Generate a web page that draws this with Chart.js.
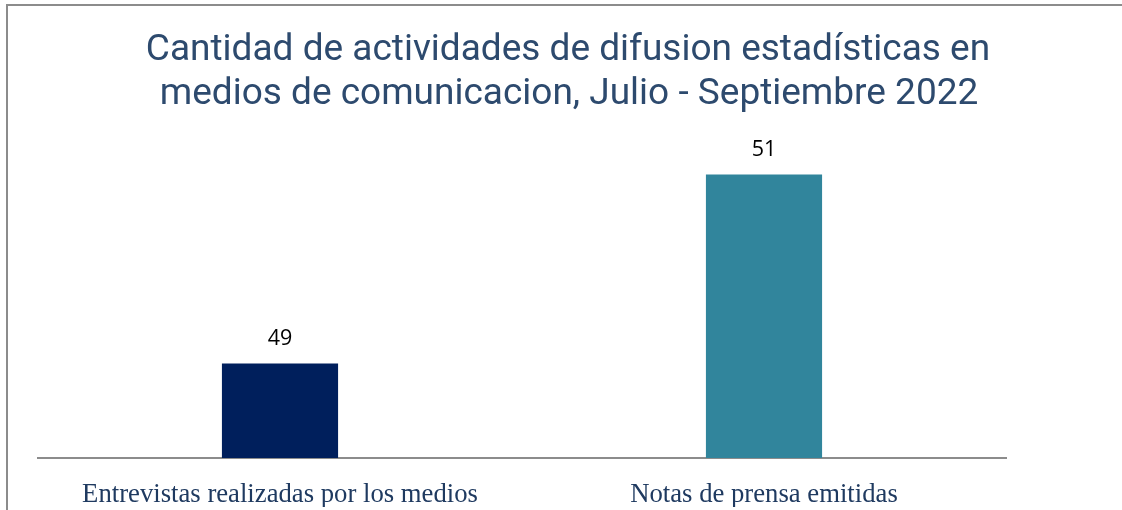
<!DOCTYPE html>
<html>
<head>
<meta charset="utf-8">
<script src="https://cdn.jsdelivr.net/npm/chart.js@4.4.0/dist/chart.umd.min.js"></script>
<style>
html,body{margin:0;padding:0;background:#fff;}
#wrap{width:1122px;height:510px;position:relative;}
</style>
</head>
<body>
<div id="wrap"><canvas id="c" width="1122" height="510"></canvas></div>
<script>
const categories = ["Entrevistas realizadas por los medios", "Notas de prensa emitidas"];
const values = [49, 51];
const barColors = ["#001f5c", "#31859c"];
const titleLines = ["Cantidad de actividades de difusion estadísticas en", "medios de comunicacion, Julio - Septiembre 2022"];
const yMin = 48;
const yMax = 52;

const framePlugin = {
  id: 'frame',
  beforeDraw(chart) {
    const ctx = chart.ctx;
    ctx.save();
    ctx.fillStyle = '#ffffff';
    ctx.fillRect(0, 0, chart.width, chart.height);
    ctx.strokeStyle = '#8c8c8c';
    ctx.lineWidth = 2;
    ctx.beginPath();
    ctx.moveTo(7, chart.height);
    ctx.lineTo(7, 5);
    ctx.lineTo(chart.width, 5);
    ctx.stroke();
    ctx.restore();
  },
  afterDraw(chart) {
    const ctx = chart.ctx;
    ctx.save();
    ctx.font = '37px Roboto';
    ctx.fillStyle = '#2d4a6e';
    ctx.textAlign = 'center';
    ctx.textBaseline = 'alphabetic';
    ctx.fillText(titleLines[0], 568, 60);
    ctx.fillText(titleLines[1], 569, 104);
    // data labels
    const meta = chart.getDatasetMeta(0);
    ctx.font = '21.5px "Open Sans"';
    ctx.fillStyle = '#000000';
    meta.data.forEach((bar, i) => {
      ctx.fillText(String(values[i]), bar.x, bar.y - 18.5);
    });
    ctx.restore();
  }
};

new Chart(document.getElementById('c'), {
  type: 'bar',
  data: {
    labels: categories,
    datasets: [{
      data: values,
      backgroundColor: barColors,
      borderWidth: 0,
      barPercentage: 0.24,
      categoryPercentage: 1.0
    }]
  },
  options: {
    responsive: false,
    animation: false,
    events: [],
    layout: { padding: { left: 38, right: 116, top: 80, bottom: 3 } },
    plugins: {
      legend: { display: false },
      title: { display: false },
      tooltip: { enabled: false }
    },
    scales: {
      x: {
        grid: { display: false, drawTicks: false },
        border: { display: true, color: '#8c8c8c', width: 2 },
        afterFit(scale) { scale.height = 49; },
        ticks: {
          color: '#1f3a60',
          font: { family: '"Liberation Serif"', size: 26.7 },
          padding: 21,
          maxRotation: 0,
          autoSkip: false
        }
      },
      y: {
        display: false,
        min: yMin,
        max: yMax
      }
    }
  },
  plugins: [framePlugin]
});
</script>
</body>
</html>
